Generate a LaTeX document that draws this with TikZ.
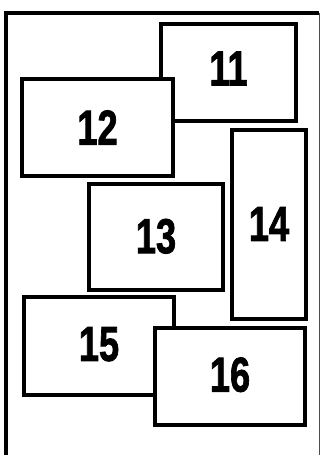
\documentclass[tikz,border=0pt]{standalone}
\usepackage{fontspec}
\setmainfont[BoldFeatures={FakeBold=1.8}]{Liberation Sans}
\usepackage{tikz}
\usetikzlibrary{positioning}

\begin{document}
\begin{tikzpicture}[
        x=1pt,y=-1pt,
        panel/.style={draw=black,line width=3.4pt,fill=white,inner sep=0pt,font=\fontsize{49}{49}\selectfont\bfseries},
        frame/.style={line width=3.8pt,black}
      ]
        \useasboundingbox (0,0) rectangle (321,455);
        % outer frame, open at the bottom
        \coordinate (fl) at (6,455);
        \coordinate (ftl) at (6,13);
        \coordinate (ftr) at (319.5,13);
        \coordinate (fr) at (319.5,455);
        \draw[frame] (fl) -- (ftl) -- ([xshift=-0.5pt]ftr);
        \draw[line width=1.2pt,black!70] (ftr) -- (fr);
        % panels
        \node[panel,minimum width=135pt,minimum height=97pt] (b11) at (228.5,72.5) {\raisebox{8pt}{\scalebox{0.74}[1]{11}}};
        \node[panel,minimum width=151pt,minimum height=97pt] (b12) at (97.5,127.5) {\scalebox{0.74}[1]{12}};
        \node[panel,minimum width=134pt,minimum height=106pt] (b13) at (156,237) {\raisebox{2pt}{\scalebox{0.74}[1]{13}}};
        \node[panel,minimum width=74pt,minimum height=189pt] (b14) at (269,224.5) {\raisebox{1pt}{\scalebox{0.74}[1]{14}}};
        \node[panel,minimum width=150pt,minimum height=98pt] (b15) at (99,346) {\raisebox{4pt}{\scalebox{0.74}[1]{15}}};
        \node[panel,minimum width=150pt,minimum height=97pt] (b16) at (230,376.5) {\raisebox{4pt}{\scalebox{0.74}[1]{16}}};
      \end{tikzpicture}
\end{document}
